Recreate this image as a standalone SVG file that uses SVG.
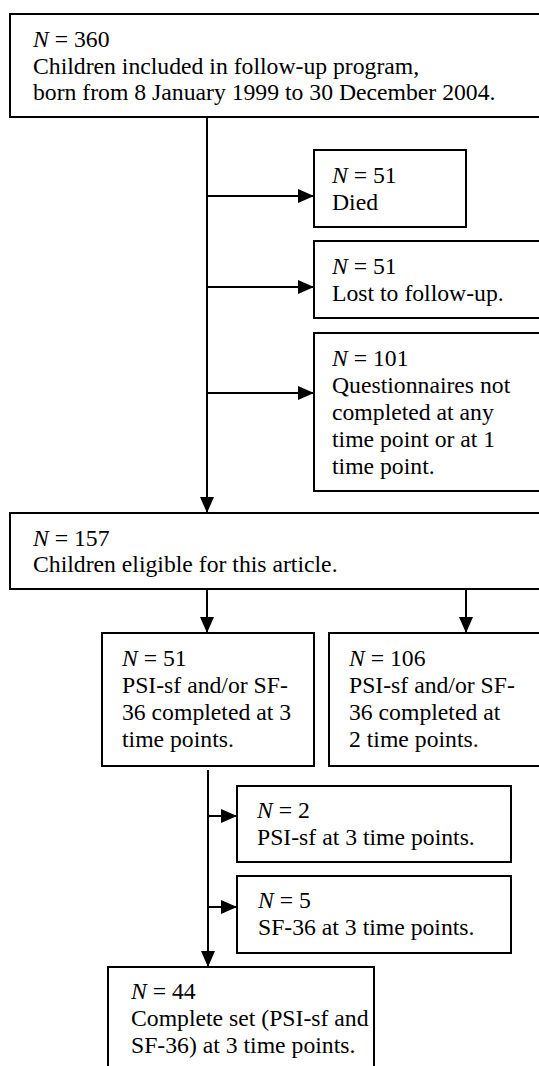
<svg xmlns="http://www.w3.org/2000/svg" width="539" height="1066" viewBox="0 0 539 1066">
<style>
.box{fill:#fff;stroke:#000;stroke-width:2}
.t{font-family:"Liberation Serif","Times New Roman",serif;font-size:23.7px;fill:#000}
.i{font-style:italic}
.c{stroke:#000;stroke-width:2;fill:none}
</style>
<defs>
<marker id="ah" markerWidth="16" markerHeight="14" refX="16" refY="7" orient="auto" markerUnits="userSpaceOnUse">
<path d="M0,0 L16,7 L0,14 z" fill="#000"/>
</marker>
</defs>
<rect width="539" height="1066" fill="#fff"/>
<g id="connectors">
<line class="c" x1="207" y1="117" x2="207" y2="513" marker-end="url(#ah)"/>
<line class="c" x1="207" y1="196" x2="314" y2="196" marker-end="url(#ah)"/>
<line class="c" x1="207" y1="287" x2="314" y2="287" marker-end="url(#ah)"/>
<line class="c" x1="207" y1="393" x2="314" y2="393" marker-end="url(#ah)"/>
<line class="c" x1="207" y1="589" x2="207" y2="633" marker-end="url(#ah)"/>
<line class="c" x1="466" y1="589" x2="466" y2="633" marker-end="url(#ah)"/>
<line class="c" x1="208" y1="770" x2="208" y2="967" marker-end="url(#ah)"/>
<line class="c" x1="208" y1="816" x2="237" y2="816" marker-end="url(#ah)"/>
<line class="c" x1="208" y1="907" x2="237" y2="907" marker-end="url(#ah)"/>
</g>
<g id="n360">
<rect class="box" x="10" y="14" width="540" height="103"/>
<text class="t" x="33" y="47"><tspan class="i">N</tspan> = 360</text>
<text class="t" x="33" y="74">Children included in follow-up program,</text>
<text class="t" x="33" y="100">born from 8 January 1999 to 30 December 2004.</text>
</g>
<g id="died">
<rect class="box" x="314" y="150" width="152" height="77"/>
<text class="t" x="332" y="183"><tspan class="i">N</tspan> = 51</text>
<text class="t" x="332" y="210">Died</text>
</g>
<g id="lost">
<rect class="box" x="314" y="241" width="236" height="77"/>
<text class="t" x="332" y="274"><tspan class="i">N</tspan> = 51</text>
<text class="t" x="332" y="301">Lost to follow-up.</text>
</g>
<g id="n101">
<rect class="box" x="314" y="333" width="236" height="158"/>
<text class="t" x="332" y="366"><tspan class="i">N</tspan> = 101</text>
<text class="t" x="332" y="393">Questionnaires not</text>
<text class="t" x="332" y="420">completed at any</text>
<text class="t" x="332" y="447">time point or at 1</text>
<text class="t" x="332" y="474">time point.</text>
</g>
<g id="n157">
<rect class="box" x="10" y="513" width="540" height="76"/>
<text class="t" x="33" y="546"><tspan class="i">N</tspan> = 157</text>
<text class="t" x="33" y="572">Children eligible for this article.</text>
</g>
<g id="n51b">
<rect class="box" x="102" y="633" width="212" height="133"/>
<text class="t" x="122" y="666"><tspan class="i">N</tspan> = 51</text>
<text class="t" x="122" y="693">PSI-sf and/or SF-</text>
<text class="t" x="122" y="720">36 completed at 3</text>
<text class="t" x="122" y="747">time points.</text>
</g>
<g id="n106">
<rect class="box" x="329" y="633" width="221" height="133"/>
<text class="t" x="349" y="666"><tspan class="i">N</tspan> = 106</text>
<text class="t" x="349" y="693">PSI-sf and/or SF-</text>
<text class="t" x="349" y="720">36 completed at</text>
<text class="t" x="349" y="747">2 time points.</text>
</g>
<g id="n2">
<rect class="box" x="237" y="786" width="274" height="76"/>
<text class="t" x="257" y="818"><tspan class="i">N</tspan> = 2</text>
<text class="t" x="257" y="845">PSI-sf at 3 time points.</text>
</g>
<g id="n5">
<rect class="box" x="237" y="876" width="274" height="77"/>
<text class="t" x="258" y="908"><tspan class="i">N</tspan> = 5</text>
<text class="t" x="258" y="935">SF-36 at 3 time points.</text>
</g>
<g id="n44">
<rect class="box" x="108" y="967" width="266" height="110"/>
<text class="t" x="131" y="999"><tspan class="i">N</tspan> = 44</text>
<text class="t" x="131" y="1026">Complete set (PSI-sf and</text>
<text class="t" x="131" y="1053">SF-36) at 3 time points.</text>
</g>
</svg>
